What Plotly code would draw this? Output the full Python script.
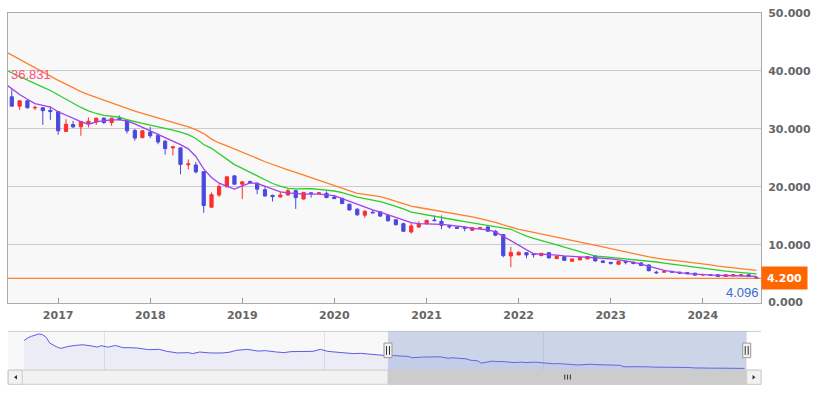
import plotly.graph_objects as go
import pandas as pd

# ---------------- data ----------------
months = pd.date_range("2016-07-01", "2024-08-01", freq="MS").strftime("%Y-%m-%d").tolist()

open_ = [35.53, 33.92, 34.84, 33.60, 33.65, 33.19, 32.97, 29.56, 30.75, 30.34, 30.92, 31.19,
         31.83, 31.09, 31.80, 31.37, 29.73, 28.47, 29.44, 28.87, 27.85, 26.70, 26.71, 23.80,
         23.75, 22.61, 16.47, 18.57, 20.00, 21.88, 20.44, 20.90, 20.61, 19.49, 18.52, 18.23,
         18.57, 19.32, 17.88, 18.95, 18.85, 18.86, 18.23, 18.00, 16.98, 16.13, 15.10, 15.60,
         15.67, 15.05, 14.30, 13.62, 12.20, 13.05, 13.62, 14.25, 14.03, 13.20, 13.00, 12.93,
         12.49, 12.85, 13.05, 12.32, 11.74, 8.05, 8.22, 8.62, 8.38, 8.10, 8.62, 7.60,
         7.94, 7.13, 7.37, 7.54, 8.05, 7.20, 6.96, 6.62, 7.10, 6.95, 6.85, 6.50,
         5.25, 5.25, 5.38, 5.26, 5.20, 5.08, 4.75, 4.80, 4.81, 4.52, 4.60, 4.65,
         4.81, 4.35]
high = [36.831, 34.84, 35.00, 34.00, 33.70, 33.87, 33.00, 31.66, 31.37, 31.30, 31.95, 31.95,
        32.05, 31.90, 32.30, 31.50, 30.00, 29.80, 30.34, 29.20, 28.07, 27.00, 26.80, 24.71,
        24.27, 22.70, 19.03, 20.44, 21.88, 21.90, 20.90, 21.07, 20.73, 20.17, 18.63, 19.15,
        19.59, 19.49, 19.10, 19.03, 19.00, 19.20, 18.57, 18.10, 17.10, 16.30, 15.90, 16.00,
        15.80, 15.20, 14.40, 13.80, 13.79, 14.03, 14.30, 15.05, 15.05, 13.45, 13.05, 13.23,
        12.95, 13.05, 13.23, 12.55, 11.80, 9.64, 8.88, 8.70, 8.50, 8.60, 8.70, 8.10,
        8.00, 7.60, 7.90, 8.00, 8.20, 7.30, 7.00, 7.25, 7.20, 7.00, 6.95, 6.60,
        5.50, 5.67, 5.50, 5.30, 5.25, 5.10, 4.98, 4.85, 4.85, 4.85, 4.85, 4.85,
        4.85, 4.50]
low = [33.90, 33.24, 33.48, 33.24, 30.68, 31.54, 28.98, 29.50, 30.12, 28.80, 30.24, 30.68,
       30.85, 30.50, 31.50, 29.20, 27.95, 28.40, 28.41, 27.34, 25.56, 25.39, 22.15, 23.00,
       22.32, 15.50, 16.35, 18.23, 19.90, 20.40, 17.88, 20.60, 18.74, 18.29, 17.44, 18.20,
       18.50, 16.18, 17.80, 18.12, 18.80, 18.10, 17.90, 17.00, 15.90, 15.00, 14.64, 15.44,
       14.80, 14.00, 13.30, 12.20, 11.90, 12.88, 13.50, 14.08, 12.66, 12.76, 12.80, 12.32,
       12.40, 12.76, 12.30, 11.47, 7.82, 6.11, 8.20, 7.65, 7.76, 8.05, 7.65, 7.50,
       7.25, 7.10, 7.30, 7.50, 7.10, 6.80, 6.55, 6.60, 6.60, 6.60, 6.35, 5.40,
       4.98, 5.20, 5.20, 5.00, 4.90, 4.70, 4.64, 4.60, 4.50, 4.50, 4.55, 4.60,
       4.50, 4.096]
close = [33.92, 34.84, 33.65, 33.70, 33.14, 32.97, 29.66, 30.80, 30.34, 31.26, 31.31, 31.83,
         31.09, 31.83, 31.60, 29.66, 28.41, 29.66, 28.81, 27.73, 26.59, 26.90, 23.86, 23.95,
         22.56, 16.76, 18.63, 20.05, 21.71, 20.44, 20.85, 20.68, 19.59, 18.40, 18.29, 18.57,
         19.32, 18.12, 19.03, 18.85, 18.95, 18.12, 17.95, 17.10, 16.00, 15.15, 15.78, 15.50,
         14.93, 14.13, 13.45, 12.32, 13.23, 13.62, 14.20, 14.15, 13.34, 13.10, 12.83, 12.83,
         12.93, 12.95, 12.32, 11.64, 8.11, 8.67, 8.67, 8.22, 8.28, 8.50, 7.71, 7.99,
         7.30, 7.54, 7.82, 7.94, 7.20, 6.95, 6.80, 7.10, 6.95, 6.75, 6.40, 5.50,
         5.15, 5.35, 5.26, 5.08, 4.98, 4.74, 4.85, 4.72, 4.52, 4.81, 4.81, 4.80,
         4.52, 4.20]

# moving-average lines, first point = 2016-06
ma_dates = ["2016-06-01"] + months
ma_short = [37.9, 36.89, 35.92, 35.10, 34.35, 34.06, 33.77, 32.95, 32.32, 31.76, 31.25, 30.80, 31.21,
            31.40, 31.54, 31.54, 31.37, 30.84, 30.26, 29.61, 28.96, 28.53, 27.92, 27.27, 26.54,
            25.22, 23.07, 21.59, 20.61, 20.09, 19.61, 20.14, 20.67, 20.56, 20.07, 19.51, 19.10,
            18.96, 18.82, 18.74, 18.74, 18.74, 18.60, 18.46, 17.97, 17.47, 16.95, 16.43, 16.02,
            15.63, 15.20, 14.76, 14.25, 13.81, 13.62, 13.62, 13.62, 13.50, 13.36, 13.23, 13.05,
            12.82, 12.68, 12.54, 12.22, 11.45, 10.78, 9.98, 9.16, 8.43, 8.36, 8.33, 8.21,
            8.07, 7.94, 7.89, 7.83, 7.76, 7.71, 7.54, 7.37, 7.20, 6.98, 6.66, 6.28,
            5.89, 5.58, 5.34, 5.12, 5.00, 4.90, 4.81, 4.76, 4.71, 4.68, 4.62, 4.59,
            4.56, 4.52]
ma_mid = [40.27, 39.64, 38.99, 38.36, 37.76, 37.20, 36.62, 35.85, 35.07, 34.37, 33.69, 33.12, 32.65,
          32.34, 32.20, 32.00, 31.57, 31.21, 30.94, 30.65, 30.38, 30.10, 29.78, 29.42, 29.01,
          28.33, 27.30, 26.64, 25.72, 24.66, 23.82, 23.17, 22.51, 21.98, 21.33, 20.56, 20.12,
          19.73, 19.62, 19.68, 19.66, 19.56, 19.44, 19.27, 18.98, 18.58, 18.19, 17.95, 17.73,
          17.44, 17.05, 16.66, 16.19, 15.61, 15.36, 15.10, 14.85, 14.64, 14.42, 14.22, 13.99,
          13.77, 13.57, 13.38, 13.19, 12.92, 12.66, 12.06, 11.47, 11.09, 10.75, 10.36, 9.97,
          9.59, 9.20, 8.79, 8.40, 8.04, 7.94, 7.82, 7.68, 7.53, 7.39, 7.25, 7.13,
          7.01, 6.83, 6.64, 6.43, 6.25, 6.08, 5.90, 5.73, 5.56, 5.43, 5.31, 5.20,
          5.09, 4.97]
ma_long = [43.43, 42.70, 41.96, 41.21, 40.49, 39.76, 39.03, 38.36, 37.71, 37.05, 36.42, 35.92, 35.43,
           34.95, 34.47, 34.01, 33.53, 33.07, 32.68, 32.29, 31.89, 31.52, 31.14, 30.78, 30.34,
           29.85, 29.18, 28.23, 27.56, 27.06, 26.55, 26.04, 25.46, 24.90, 24.32, 23.82, 23.38,
           22.93, 22.47, 22.01, 21.57, 21.13, 20.67, 20.22, 19.78, 19.32, 18.87, 18.70, 18.53,
           18.29, 17.92, 17.53, 17.08, 16.64, 16.42, 16.19, 15.97, 15.77, 15.55, 15.32, 15.10,
           14.81, 14.49, 14.18, 13.84, 13.41, 12.99, 12.65, 12.37, 12.12, 11.84, 11.60, 11.37,
           11.06, 10.75, 10.48, 10.20, 9.93, 9.64, 9.30, 8.98, 8.74, 8.45, 8.19, 7.90,
           7.63, 7.47, 7.34, 7.20, 7.06, 6.89, 6.71, 6.50, 6.31, 6.14, 5.99, 5.84,
           5.70, 5.55]

# navigator history before the main window
nav_hist_dates = ["2008-03-01", "2008-04-01", "2008-05-01", "2008-06-01", "2008-07-01", "2008-08-01",
                  "2008-09-01", "2008-10-01", "2008-11-01", "2008-12-01", "2009-01-01", "2009-03-01",
                  "2009-05-01", "2009-07-01", "2009-09-01", "2009-11-01", "2009-12-01", "2010-02-01",
                  "2010-04-01", "2010-06-01", "2010-08-01", "2010-10-01", "2011-01-01", "2011-04-01",
                  "2011-06-01", "2011-09-01", "2011-12-01", "2012-01-01", "2012-03-01", "2012-06-01",
                  "2012-09-01", "2012-11-01", "2013-01-01", "2013-04-01", "2013-07-01", "2013-09-01",
                  "2013-12-01", "2014-02-01", "2014-04-01", "2014-07-01", "2014-10-01", "2014-12-01",
                  "2015-02-01", "2015-04-01", "2015-06-01", "2015-09-01", "2015-11-01", "2016-01-01",
                  "2016-03-01", "2016-06-01"]
nav_hist_vals = [70.7, 77.0, 80.7, 84.0, 86.3, 84.7, 78.4, 64.4, 59.0, 55.0, 51.9, 56.6,
                 59.0, 60.6, 58.3, 55.0, 58.3, 55.0, 59.0, 53.6, 53.6, 52.7, 48.9, 49.6,
                 44.9, 41.0, 41.9, 39.5, 43.3, 41.0, 41.0, 42.6, 47.3, 49.6, 45.6, 46.5,
                 43.3, 41.9, 44.2, 44.9, 44.9, 49.6, 44.9, 43.3, 41.9, 39.5, 40.2, 38.6,
                 37.9, 35.6]

current_price = 4.200
max_label = "36.831"
min_label = "4.096"
year_ticks = ["2017", "2018", "2019", "2020", "2021", "2022", "2023", "2024"]
view_range = ["2016-06-16", "2024-08-19"]
nav_range = ["2007-10-19", "2024-08-19"]

# ---------------- layout helpers ----------------
W, H = 819, 400
ML, MR, MT, MB = 7, 58, 8, 16
PW, PH = W - ML - MR, H - MT - MB
def px(x):
    return (x - ML) / PW
def py(y):
    return (H - MB - y) / PH

BLUE = "#4949DE"
RED = "#FF2E2E"
bold = dict(family="DejaVu Sans", size=11, color="#666666", weight="bold")

fig = go.Figure()

fig.add_trace(go.Candlestick(
    x=months, open=open_, high=high, low=low, close=close,
    increasing=dict(line=dict(color=RED, width=1), fillcolor=RED),
    decreasing=dict(line=dict(color=BLUE, width=1), fillcolor=BLUE),
    whiskerwidth=0, hoverinfo="skip", showlegend=False, xaxis="x", yaxis="y"))

for vals, col in [(ma_long, "#FF7F2A"), (ma_mid, "#2ECC2E"), (ma_short, "#A040F0")]:
    fig.add_trace(go.Scatter(x=ma_dates, y=vals, mode="lines",
                             line=dict(color=col, width=1.3), hoverinfo="skip",
                             showlegend=False, xaxis="x", yaxis="y"))

# navigator series
nav_x = nav_hist_dates + months
nav_y = nav_hist_vals + close
fig.add_trace(go.Scatter(x=nav_x, y=nav_y, mode="lines", fill="tozeroy",
                         line=dict(color="#5C5CE6", width=1),
                         fillcolor="rgba(80,80,230,0.07)", hoverinfo="skip",
                         showlegend=False, xaxis="x2", yaxis="y2"))

shapes = []
shapes.append(dict(type="line", xref="x domain", yref="y", x0=0, x1=1,
                   y0=current_price, y1=current_price, line=dict(color="#FF6600", width=1)))
shapes.append(dict(type="line", xref="paper", yref="paper", x0=0, x1=1,
                   y0=py(330.7), y1=py(330.7), line=dict(color="#CCCCCC", width=1)))
shapes.append(dict(type="rect", xref="x2", yref="paper", x0=view_range[0], x1=view_range[1],
                   y0=py(370), y1=py(330.7), fillcolor="rgba(102,133,194,0.3)",
                   line=dict(width=0), layer="above"))
shapes.append(dict(type="rect", xref="paper", yref="paper", x0=0, x1=1,
                   y0=py(384.3), y1=py(370), fillcolor="#F2F2F2",
                   line=dict(color="#CCCCCC", width=1)))
shapes.append(dict(type="rect", xref="x2", yref="paper", x0=view_range[0], x1=view_range[1],
                   y0=py(384.3), y1=py(370), fillcolor="#CCCCCC",
                   line=dict(color="#CCCCCC", width=1)))
shapes.append(dict(type="rect", xref="paper", yref="paper", x0=px(7.3), x1=px(21.3),
                   y0=py(384.3), y1=py(370), fillcolor="#F2F2F2",
                   line=dict(color="#CCCCCC", width=1)))
shapes.append(dict(type="rect", xref="paper", yref="paper", x0=px(746.7), x1=px(761),
                   y0=py(384.3), y1=py(370), fillcolor="#F2F2F2",
                   line=dict(color="#CCCCCC", width=1)))
def tri(points):
    return "M " + " L ".join(f"{px(a):.5f},{py(b):.5f}" for a, b in points) + " Z"
shapes.append(dict(type="path", xref="paper", yref="paper",
                   path=tri([(13, 377.2), (16, 375), (16, 379.4)]),
                   fillcolor="#333333", line=dict(width=0)))
shapes.append(dict(type="path", xref="paper", yref="paper",
                   path=tri([(755.5, 377.2), (752.5, 375), (752.5, 379.4)]),
                   fillcolor="#333333", line=dict(width=0)))
for gx in (564.5, 567.3, 570.1):
    shapes.append(dict(type="line", xref="paper", yref="paper", x0=px(gx), x1=px(gx),
                       y0=py(379.5), y1=py(374.5), line=dict(color="#333333", width=1)))
for hx in (387.5, 746.7):
    shapes.append(dict(type="rect", xref="paper", yref="paper", x0=px(hx - 4), x1=px(hx + 4),
                       y0=py(357.3), y1=py(342.5), fillcolor="#F2F2F2",
                       line=dict(color="#999999", width=1)))
    for d in (-1.5, 1.5):
        shapes.append(dict(type="line", xref="paper", yref="paper", x0=px(hx + d), x1=px(hx + d),
                           y0=py(354.5), y1=py(345.5), line=dict(color="#333333", width=1)))

annotations = [
    dict(x=months[0], y=high[0], xref="x", yref="y", text=max_label, showarrow=False,
         xanchor="left", yanchor="bottom", yshift=5, xshift=-3,
         font=dict(family="Liberation Sans", size=13, color="#FF4F7B")),
    dict(x=months[-1], y=low[-1], xref="x", yref="y", text=min_label, showarrow=False,
         xanchor="right", yanchor="top", xshift=5, yshift=-4,
         font=dict(family="Liberation Sans", size=13, color="#3D6BD0")),
    dict(x=1, y=current_price, xref="paper", yref="y", text=f"{current_price:.3f}",
         showarrow=False, xanchor="left", yanchor="middle",
         bgcolor="#FF6600", borderpad=5, width=35, height=12,
         font=dict(family="DejaVu Sans", size=11, color="#FFFFFF", weight="bold")),
]

fig.update_layout(
    width=W, height=H, margin=dict(l=ML, r=MR, t=MT, b=MB),
    paper_bgcolor="white", plot_bgcolor="#F8F8F8",
    showlegend=False, boxgap=0.35,
    xaxis=dict(domain=[0, 1], anchor="y", type="date", range=view_range,
               tickvals=[f"{y}-01-01" for y in year_ticks], ticktext=year_ticks,
               ticks="inside", ticklen=5, tickcolor="#999999", showgrid=False,
               showline=True, linecolor="#AAAAAA", mirror=True, zeroline=False,
               tickfont=bold, ticklabelstandoff=2, rangeslider=dict(visible=False)),
    yaxis=dict(domain=[py(301.5), 1], anchor="x", side="right", range=[0, 50],
               dtick=10, tickformat=".3f", gridcolor="#CCCCCC", showline=True,
               linecolor="#AAAAAA", mirror=True, zeroline=False, tickfont=bold,
               ticks="", ticklabelstandoff=4),
    xaxis2=dict(domain=[0, px(746.7)], anchor="y2", type="date", range=nav_range,
                tickvals=["2010-01-01", "2015-01-01", "2020-01-01"], showticklabels=False,
                showgrid=True, gridcolor="#E3E3E3", showline=False, zeroline=False, ticks=""),
    yaxis2=dict(domain=[py(370), py(330.7)], anchor="x2", range=[0, 92.4],
                showgrid=False, showticklabels=False, zeroline=False, showline=False),
    shapes=shapes, annotations=annotations,
)

fig.write_html("out.html", config={"displayModeBar": False},
               post_script="document.body.style.margin='0';")
